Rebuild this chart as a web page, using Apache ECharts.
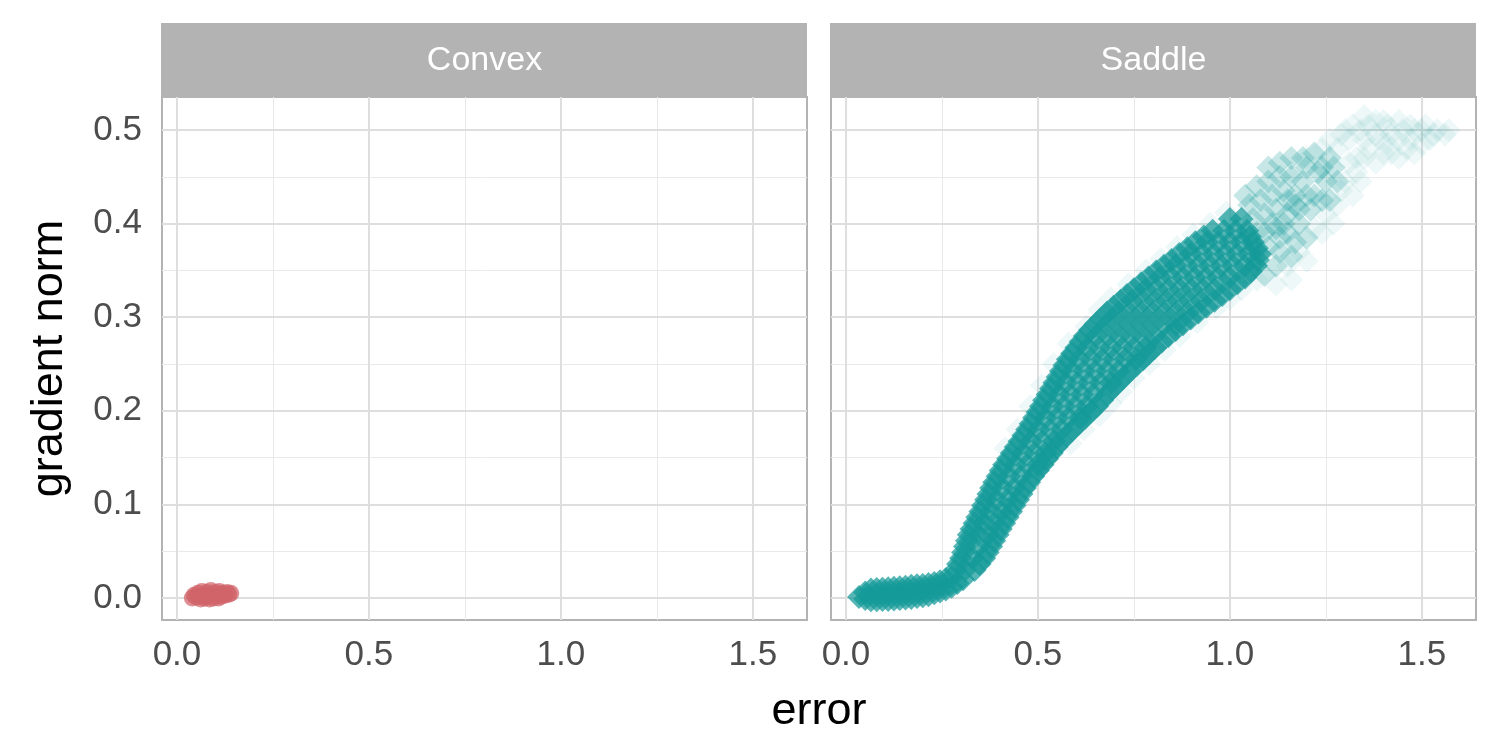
<!DOCTYPE html>
<html>
<head>
<meta charset="utf-8">
<script src="https://cdn.jsdelivr.net/npm/echarts@6/dist/echarts.min.js"></script>
<style>
html,body{margin:0;padding:0;background:#fff;}
#chart{width:1500px;height:750px;}
</style>
</head>
<body>
<div id="chart"></div>
<script>
// ---- data ----
const panels = ['Convex', 'Saddle'];
const xTicks = [0, 0.5, 1.0, 1.5];
const xMinor = [0.25, 0.75, 1.25];
const yTicks = [0, 0.1, 0.2, 0.3, 0.4, 0.5];
const yMinor = [0.05, 0.15, 0.25, 0.35, 0.45];
const xTitle = 'error';
const yTitle = 'gradient norm';

const convexPoints = [
  [0.040,0.000],[0.045,0.003],[0.050,0.001],[0.055,0.005],[0.060,0.002],[0.065,0.007],
  [0.070,0.003],[0.072,0.000],[0.078,0.006],[0.082,0.002],[0.088,0.008],[0.092,0.004],
  [0.095,0.000],[0.100,0.006],[0.105,0.003],[0.110,0.007],[0.115,0.002],[0.120,0.005],
  [0.125,0.003],[0.130,0.006],[0.135,0.004],[0.140,0.005],[0.062,-0.001],[0.085,-0.001],
  [0.108,0.000]
];

const saddleCore = [
  // flat start of the band
  [0.034,0.001],
  [0.05,0.006],[0.065,0.009],[0.08,0.0095],[0.095,0.010],[0.11,0.0105],[0.125,0.011],[0.14,0.0115],
  [0.155,0.012],[0.17,0.013],[0.185,0.0135],[0.20,0.014],[0.215,0.015],[0.23,0.016],[0.245,0.018],
  [0.26,0.020],[0.275,0.022],
  [0.05,-0.001],[0.065,-0.0025],[0.08,-0.0025],[0.095,-0.002],[0.11,-0.002],[0.125,-0.0015],[0.14,-0.001],
  [0.155,-0.0005],[0.17,0.000],[0.185,0.001],[0.20,0.002],[0.215,0.003],[0.23,0.005],[0.245,0.007],
  [0.26,0.009],[0.275,0.012],[0.29,0.016],[0.305,0.020],
  // rising part
  [0.285,0.03],[0.31,0.03],[0.335,0.03],
  [0.30,0.0425],[0.33,0.0425],[0.36,0.0425],
  [0.31,0.055],[0.345,0.055],[0.378,0.055],
  [0.32,0.0675],[0.345,0.0675],[0.37,0.0675],[0.395,0.0675],
  [0.335,0.08],[0.36,0.08],[0.385,0.08],[0.412,0.08],
  [0.35,0.0925],[0.378,0.0925],[0.405,0.0925],[0.43,0.0925],
  [0.365,0.105],[0.393,0.105],[0.421,0.105],[0.448,0.105],
  [0.378,0.1175],[0.408,0.1175],[0.438,0.1175],[0.466,0.1175],
  [0.395,0.13],[0.425,0.13],[0.455,0.13],[0.488,0.13],
  [0.412,0.1425],[0.442,0.1425],[0.472,0.1425],[0.50,0.1425],[0.512,0.1425],
  [0.432,0.155],[0.462,0.155],[0.492,0.155],[0.52,0.155],[0.536,0.155],
  [0.452,0.1675],[0.482,0.1675],[0.512,0.1675],[0.542,0.1675],[0.561,0.1675],
  [0.472,0.18],[0.502,0.18],[0.532,0.18],[0.562,0.18],[0.591,0.18],
  [0.49,0.1925],[0.52,0.1925],[0.55,0.1925],[0.58,0.1925],[0.61,0.1925],[0.623,0.1925],
  [0.508,0.205],[0.538,0.205],[0.568,0.205],[0.598,0.205],[0.628,0.205],[0.654,0.205],
  [0.525,0.2175],[0.555,0.2175],[0.585,0.2175],[0.615,0.2175],[0.645,0.2175],[0.68,0.2175],
  [0.543,0.23],[0.573,0.23],[0.603,0.23],[0.633,0.23],[0.663,0.23],[0.69,0.23],[0.71,0.23],
  [0.56,0.2425],[0.59,0.2425],[0.62,0.2425],[0.65,0.2425],[0.68,0.2425],[0.71,0.2425],[0.74,0.2425],
  [0.578,0.255],[0.608,0.255],[0.638,0.255],[0.668,0.255],[0.698,0.255],[0.728,0.255],[0.755,0.255],[0.774,0.255],
  [0.60,0.2675],[0.63,0.2675],[0.66,0.2675],[0.69,0.2675],[0.72,0.2675],[0.75,0.2675],[0.78,0.2675],[0.805,0.2675],
  [0.622,0.28],[0.652,0.28],[0.682,0.28],[0.712,0.28],[0.742,0.28],[0.772,0.28],[0.802,0.28],[0.84,0.28],
  [0.65,0.2925],[0.68,0.2925],[0.71,0.2925],[0.74,0.2925],[0.77,0.2925],[0.80,0.2925],[0.83,0.2925],[0.86,0.2925],[0.878,0.2925],
  [0.68,0.305],[0.71,0.305],[0.74,0.305],[0.77,0.305],[0.80,0.305],[0.83,0.305],[0.86,0.305],[0.89,0.305],[0.918,0.305],
  [0.715,0.3175],[0.745,0.3175],[0.775,0.3175],[0.805,0.3175],[0.835,0.3175],[0.865,0.3175],[0.895,0.3175],[0.925,0.3175],[0.96,0.3175],
  [0.75,0.33],[0.78,0.33],[0.81,0.33],[0.84,0.33],[0.87,0.33],[0.90,0.33],[0.93,0.33],[0.96,0.33],[1.0,0.33],
  [0.788,0.3425],[0.818,0.3425],[0.848,0.3425],[0.878,0.3425],[0.908,0.3425],[0.938,0.3425],[0.968,0.3425],[0.998,0.3425],[1.04,0.3425],
  [0.828,0.355],[0.858,0.355],[0.888,0.355],[0.918,0.355],[0.948,0.355],[0.978,0.355],[1.008,0.355],[1.038,0.355],[1.068,0.355],
  [0.868,0.3675],[0.898,0.3675],[0.928,0.3675],[0.958,0.3675],[0.988,0.3675],[1.018,0.3675],[1.048,0.3675],[1.078,0.3675],
  [0.91,0.38],[0.94,0.38],[0.97,0.38],[1.0,0.38],[1.03,0.38],[1.06,0.38],
  [0.955,0.3925],[0.985,0.3925],[1.015,0.3925],[1.045,0.3925],
  [1.0,0.405],[1.03,0.405],
  // points along the band edges, between the rows
  [0.292,0.03625],[0.348,0.03625],[0.305,0.04875],[0.369,0.04875],[0.315,0.06125],[0.386,0.06125],
  [0.327,0.07375],[0.403,0.07375],[0.342,0.08625],[0.421,0.08625],[0.357,0.09875],[0.439,0.09875],
  [0.371,0.11125],[0.457,0.11125],[0.386,0.12375],[0.477,0.12375],[0.403,0.13625],[0.50,0.13625],
  [0.422,0.14875],[0.524,0.14875],[0.442,0.16125],[0.548,0.16125],[0.462,0.17375],[0.576,0.17375],
  [0.481,0.18625],[0.607,0.18625],[0.499,0.19875],[0.638,0.19875],[0.516,0.21125],[0.667,0.21125],
  [0.534,0.22375],[0.695,0.22375],[0.551,0.23625],[0.725,0.23625],[0.569,0.24875],[0.757,0.24875],
  [0.589,0.26125],[0.789,0.26125],[0.611,0.27375],[0.822,0.27375],[0.636,0.28625],[0.859,0.28625],
  [0.665,0.29875],[0.898,0.29875],[0.697,0.31125],[0.939,0.31125],[0.732,0.32375],[0.98,0.32375],
  [0.769,0.33625],[1.02,0.33625],[0.808,0.34875],[1.054,0.34875],[0.848,0.36125],[1.073,0.36125],
  [0.889,0.37375],[1.07,0.37375],[0.932,0.38625],[1.052,0.38625]
];

const saddleMid = [
  [1.07,0.37],[1.10,0.375],[1.09,0.39],[1.12,0.395],[1.06,0.405],[1.09,0.41],[1.12,0.415],
  [1.15,0.41],[1.05,0.42],[1.08,0.425],[1.11,0.43],[1.14,0.435],[1.17,0.43],[1.10,0.445],
  [1.13,0.45],[1.16,0.45],[1.19,0.445],[1.15,0.39],[1.18,0.40],[1.21,0.415],[1.20,0.46],
  [1.23,0.455],[1.22,0.43],[1.25,0.445],[1.26,0.47],[1.13,0.37],[1.17,0.38],
  [1.04,0.43],[1.07,0.44],[1.10,0.46],[1.13,0.465],[1.16,0.47],[1.19,0.47],[1.22,0.475],
  [1.24,0.46],[1.27,0.46],[1.28,0.445],[1.26,0.425],[1.24,0.425],[1.20,0.43],[1.18,0.415],
  [1.20,0.385],[1.16,0.365],[1.12,0.355],[1.09,0.345],[1.11,0.40],[1.14,0.40],[1.07,0.39],
  [1.13,0.385],[1.17,0.42],[1.15,0.425]
];

const saddleFaint = [
  [1.28,0.48],[1.31,0.49],[1.34,0.50],[1.36,0.505],[1.33,0.47],[1.36,0.48],[1.39,0.49],
  [1.42,0.495],[1.45,0.50],[1.48,0.50],[1.51,0.505],[1.54,0.50],[1.57,0.50],[1.30,0.445],
  [1.33,0.455],[1.38,0.465],[1.42,0.475],[1.46,0.48],[1.50,0.485],[1.25,0.41],[1.28,0.42],
  [1.32,0.43],[1.22,0.395],[1.18,0.37],[1.15,0.355],[1.24,0.48],[1.20,0.47],[1.16,0.455],
  [1.30,0.50],[1.40,0.51],
  [1.26,0.49],[1.29,0.495],[1.32,0.505],[1.35,0.515],[1.38,0.51],[1.41,0.505],[1.44,0.51],
  [1.47,0.505],[1.50,0.50],[1.53,0.495],[1.56,0.495],[1.35,0.49],[1.38,0.495],[1.41,0.485],
  [1.44,0.49],[1.47,0.49],[1.52,0.49],[1.31,0.465],[1.35,0.47],[1.40,0.475],[1.44,0.47],
  [1.48,0.475],[1.29,0.435],[1.34,0.445],[1.27,0.40],[1.24,0.39],[1.20,0.36],[1.16,0.34],
  [1.12,0.335],
  // soft fringe along the upper-left edge
  [0.415,0.16],[0.447,0.18],[0.48,0.205],[0.51,0.227],[0.541,0.25],[0.58,0.272],[0.626,0.29],
  [0.66,0.308],[0.69,0.32],[0.735,0.335],[0.782,0.35],[0.82,0.362],[0.862,0.375],[0.905,0.388],
  [0.948,0.40],[0.99,0.412],
  // soft fringe along the lower-right edge
  [0.585,0.165],[0.62,0.18],[0.66,0.195],[0.69,0.208],[0.716,0.22],[0.75,0.235],[0.79,0.25],
  [0.83,0.265],[0.869,0.28],[0.915,0.295],[0.965,0.31],[1.0,0.32],[1.03,0.33],[1.07,0.34]
];

// ---- layout ----
const xMin = -0.039, xMax = 1.641, yMin = -0.0235, yMax = 0.5353;
const gridTop = 97, gridH = 523, gridW = 645;
const gridLefts = [162, 831];
const stripTop = 23, stripH = 73;
const FONT = '"Liberation Sans", Arial, Helvetica, sans-serif';

const majorStyle = {color: '#dedede', width: 2, type: 'solid'};
const minorStyle = {color: '#e9e9e9', width: 1, type: 'solid'};

function gridLines() {
  const d = [];
  xMinor.forEach(v => d.push({xAxis: v, lineStyle: minorStyle}));
  yMinor.forEach(v => d.push({yAxis: v, lineStyle: minorStyle}));
  xTicks.forEach(v => d.push({xAxis: v, lineStyle: majorStyle}));
  yTicks.forEach(v => d.push({yAxis: v, lineStyle: majorStyle}));
  return {
    silent: true, symbol: 'none', z: 1, animation: false,
    label: {show: false}, emphasis: {disabled: true},
    data: d
  };
}

const chart = echarts.init(document.getElementById('chart'), null, {renderer: 'canvas'});

const option = {
  animation: false,
  backgroundColor: '#ffffff',
  grid: gridLefts.map(l => ({
    left: l, top: gridTop, width: gridW, height: gridH,
    show: true, backgroundColor: '#ffffff', borderColor: '#b3b3b3', borderWidth: 2,
    containLabel: false
  })),
  xAxis: [0, 1].map(i => ({
    type: 'value', gridIndex: i, min: xMin, max: xMax,
    axisLine: {show: false},
    splitLine: {show: false},
    minorSplitLine: {show: false},
    axisTick: {show: true, length: 11, customValues: xTicks, lineStyle: {color: '#b3b3b3', width: 2}},
    axisLabel: {
      show: true, customValues: xTicks, margin: 18,
      formatter: v => Number(v).toFixed(1),
      color: '#4d4d4d', fontSize: 35, fontFamily: FONT
    }
  })),
  yAxis: [0, 1].map(i => ({
    type: 'value', gridIndex: i, min: yMin, max: yMax,
    axisLine: {show: false},
    splitLine: {show: false},
    axisTick: {show: i === 0, length: 11, customValues: yTicks, lineStyle: {color: '#b3b3b3', width: 2}},
    axisLabel: {
      show: i === 0, customValues: yTicks, margin: 20,
      formatter: v => Number(v).toFixed(1),
      color: '#4d4d4d', fontSize: 35, fontFamily: FONT
    }
  })),
  series: [
    {
      name: panels[0], type: 'scatter', xAxisIndex: 0, yAxisIndex: 0,
      data: convexPoints, symbol: 'circle', symbolSize: 17, silent: true, z: 2,
      itemStyle: {color: '#d0646a', opacity: 0.72},
      markLine: gridLines()
    },
    {
      name: panels[1] + ' faint', type: 'scatter', xAxisIndex: 1, yAxisIndex: 1,
      data: saddleFaint, symbol: 'diamond', symbolSize: 24, silent: true, z: 2,
      itemStyle: {color: '#169c9a', opacity: 0.07}
    },
    {
      name: panels[1] + ' mid', type: 'scatter', xAxisIndex: 1, yAxisIndex: 1,
      data: saddleMid, symbol: 'diamond', symbolSize: 24, silent: true, z: 2,
      itemStyle: {color: '#169c9a', opacity: 0.24}
    },
    {
      name: panels[1], type: 'scatter', xAxisIndex: 1, yAxisIndex: 1,
      data: saddleCore, symbol: 'diamond', symbolSize: 24, silent: true, z: 3,
      itemStyle: {color: '#149a98', opacity: 0.72},
      markLine: gridLines()
    }
  ],
  graphic: [].concat(
    gridLefts.map((l, i) => ({
      type: 'group', children: [
        {type: 'rect', shape: {x: l - 1, y: stripTop, width: gridW + 1, height: stripH}, style: {fill: '#b3b3b3'}, silent: true},
        {type: 'text', x: l + gridW / 2, y: stripTop + stripH / 2 + 1,
         style: {text: panels[i], fill: '#ffffff', font: '34px ' + FONT, align: 'center', verticalAlign: 'middle'}, silent: true}
      ]
    })),
    [
      {type: 'text', x: (gridLefts[0] + gridLefts[1] + gridW) / 2, y: 712,
       style: {text: xTitle, fill: '#000000', font: '45px ' + FONT, align: 'center', verticalAlign: 'middle'}, silent: true},
      {type: 'text', x: 50, y: gridTop + gridH / 2, rotation: Math.PI / 2,
       style: {text: yTitle, fill: '#000000', font: '45px ' + FONT, align: 'center', verticalAlign: 'middle'}, silent: true}
    ]
  )
};

chart.setOption(option);
</script>
</body>
</html>
